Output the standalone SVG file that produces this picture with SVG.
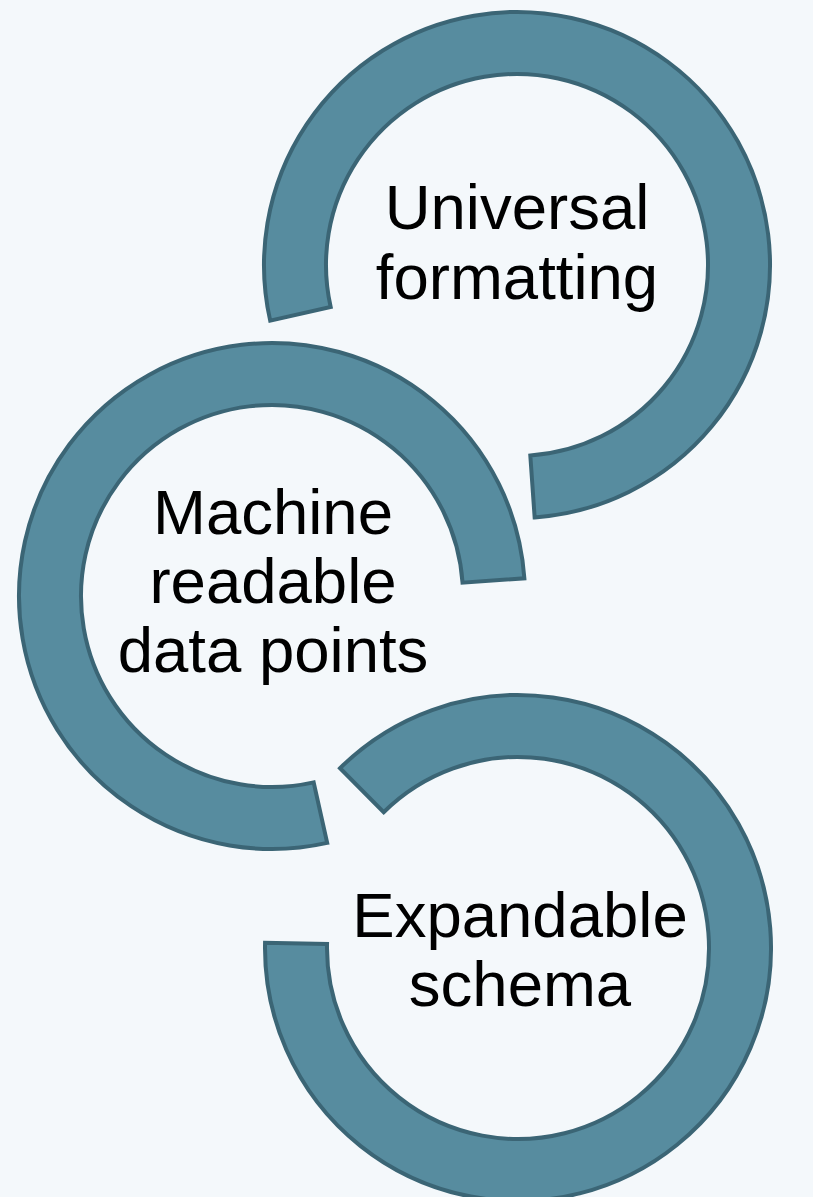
<svg xmlns="http://www.w3.org/2000/svg" width="813" height="1197" viewBox="0 0 813 1197">
  <style>
    .arc { fill: #578C9F; stroke: #3B6575; stroke-width: 4; }
    .label { font-family: "Liberation Sans", Arial, sans-serif; font-size: 63.5px; fill: #000000; text-anchor: middle; }
  </style>
  <rect width="813" height="1197" fill="#F4F8FB"/>

  <!-- Top ring: opening at lower left -->
  <g id="node-universal-formatting">
    <path class="arc" d="M 270.19 320.62 A 253 253 0 1 1 534.65 517.38 L 530.32 455.53 A 191 191 0 1 0 330.67 306.99 Z"/>
    <text class="label" x="517" y="229">Universal</text>
    <text class="label" x="517" y="299">formatting</text>
  </g>

  <!-- Middle ring: opening at lower right -->
  <g id="node-machine-readable">
    <path class="arc" d="M 327.19 842.91 A 253 253 0 1 1 524.38 578.35 L 462.53 582.68 A 191 191 0 1 0 313.66 782.40 Z"/>
    <text class="label" x="273" y="534">Machine</text>
    <text class="label" x="273" y="603">readable</text>
    <text class="label" x="273" y="672">data points</text>
  </g>

  <!-- Bottom ring: opening at upper left -->
  <g id="node-expandable-schema">
    <path class="arc" d="M 340.04 768.17 A 253 253 0 1 1 265.06 942.70 L 327.04 944.00 A 191 191 0 1 0 383.65 812.24 Z"/>
    <text class="label" x="520" y="937">Expandable</text>
    <text class="label" x="520" y="1006">schema</text>
  </g>

  <g id="connectors"/>
</svg>
